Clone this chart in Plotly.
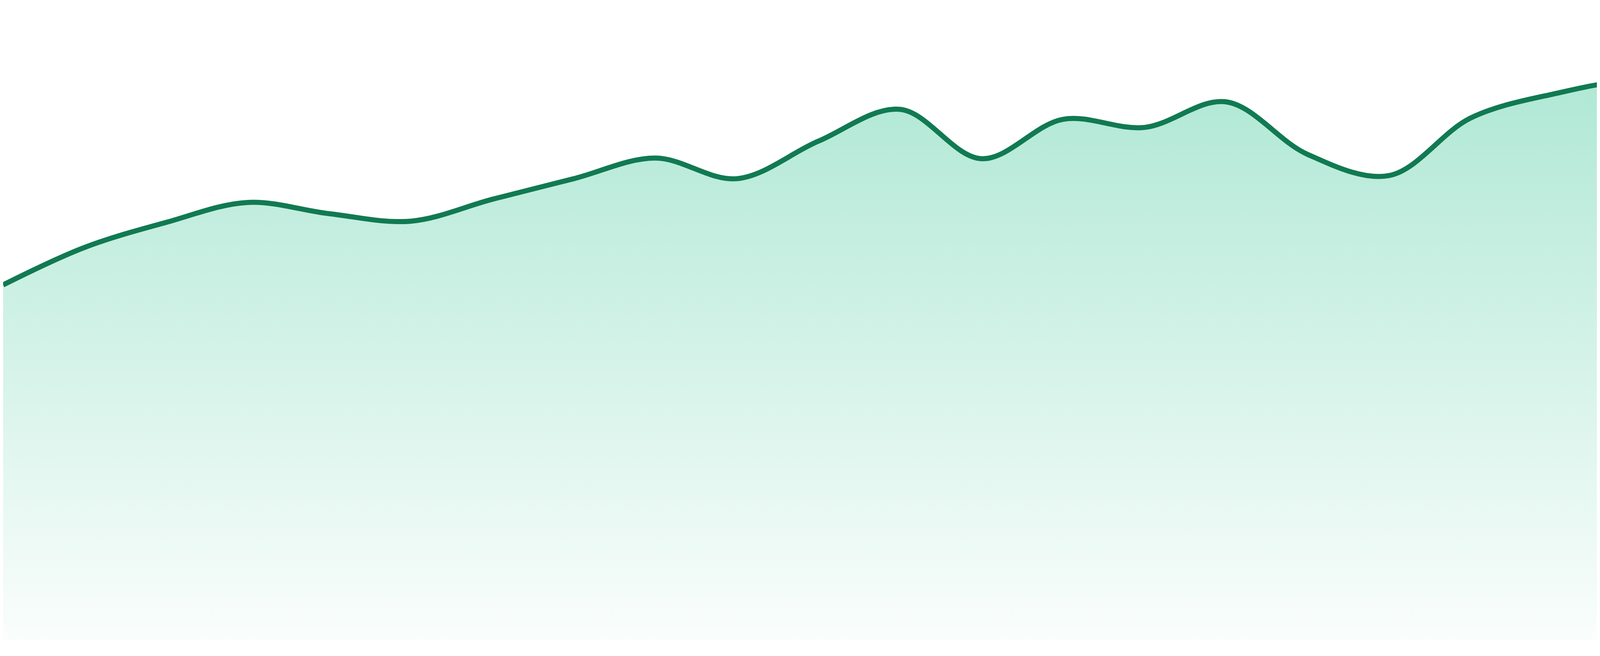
import plotly.graph_objects as go

# one reading per step
steps = list(range(24))
values = [
    56.9, 62.9, 66.9, 70.1, 68.3, 67.1, 70.6, 73.9,
    77.2, 73.9, 79.9, 85.0, 77.1, 83.4, 82.1, 86.2,
    77.8, 74.4, 83.6, 87.4, 89.3, 85.6, 89.3, 86.6,
]

line_color = "#117a52"
fill_low = "rgba(16,185,129,0.02)"
fill_high = "rgba(16,185,129,0.33)"

fig = go.Figure()
fig.add_trace(go.Scatter(
    x=steps,
    y=values,
    mode="lines",
    line=dict(color=line_color, width=13, shape="spline", smoothing=1),
    fill="tozeroy",
    fillgradient=dict(
        type="vertical",
        colorscale=[[0.0, fill_low], [1.0, fill_high]],
        start=0,
        stop=max(values),
    ),
    hoverinfo="skip",
    showlegend=False,
))

fig.update_xaxes(visible=False, range=[0, len(steps) - 1])
fig.update_yaxes(visible=False, range=[0, 102])
fig.update_layout(
    width=4800,
    height=1680,
    margin=dict(l=0, r=0, t=0, b=48),
    paper_bgcolor="white",
    plot_bgcolor="white",
)

fig.write_html("out.html")
